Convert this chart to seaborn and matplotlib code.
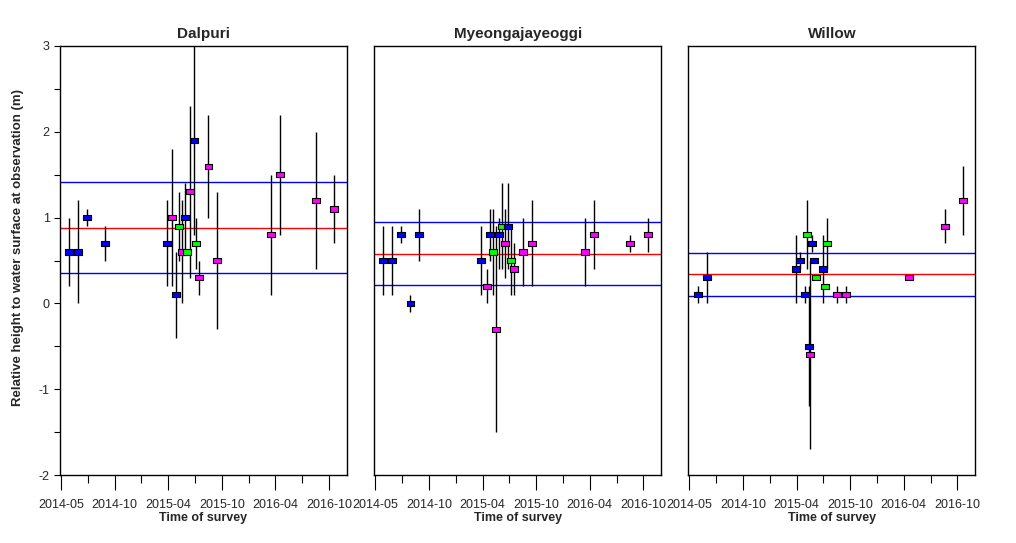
import pandas as pd
import numpy as np
import matplotlib
matplotlib.use("Agg")
import matplotlib.pyplot as plt
import matplotlib.dates as mdates
from matplotlib.ticker import MultipleLocator, FixedLocator
import seaborn as sns

# Site panels
SITES = ["Dalpuri", "Myeongajayeoggi", "Willow"]

# Dalpuri observations
dal_date = ["2014-05-29", "2014-06-27", "2014-07-28", "2014-09-26", "2015-04-23",
            "2015-05-10", "2015-05-23", "2015-05-31", "2015-06-10", "2015-06-20",
            "2015-06-29", "2015-07-09", "2015-07-23", "2015-07-29", "2015-08-08",
            "2015-09-08", "2015-10-08", "2016-04-06", "2016-05-05", "2016-09-04",
            "2016-11-03"]
dal_mean = [0.6, 0.6, 1.0, 0.7, 0.7, 1.0, 0.1, 0.9, 0.6, 1.0, 0.6, 1.3, 1.9, 0.7, 0.3,
            1.6, 0.5, 0.8, 1.5, 1.2, 1.1]
dal_low = [0.2, 0.0, 0.9, 0.5, 0.2, 0.2, -0.4, 0.5, 0.0, 0.6, 0.6, 0.3, 0.8, 0.4, 0.1,
           1.0, -0.3, 0.1, 0.8, 0.4, 0.7]
dal_high = [1.0, 1.2, 1.1, 0.9, 1.2, 1.8, 0.6, 1.3, 1.2, 1.4, 0.6, 2.3, 3.0, 1.0, 0.5,
            2.2, 1.3, 1.5, 2.2, 2.0, 1.5]
dal_group = ["A", "A", "A", "A", "A", "C", "A", "B", "C", "A", "B", "C", "A", "B", "C",
             "C", "C", "C", "C", "C", "C"]

# Myeongajayeoggi observations
mye_date = ["2014-05-28", "2014-06-27", "2014-07-27", "2014-08-27", "2014-09-26",
            "2015-04-22", "2015-05-11", "2015-05-22", "2015-06-01", "2015-06-11",
            "2015-06-21", "2015-06-30", "2015-07-11", "2015-07-21", "2015-08-01",
            "2015-08-11", "2015-09-10", "2015-10-09", "2016-04-05", "2016-05-05",
            "2016-09-03", "2016-11-03"]
mye_mean = [0.5, 0.5, 0.8, 0.0, 0.8, 0.5, 0.2, 0.8, 0.6, -0.3, 0.8, 0.9, 0.7, 0.9, 0.5,
            0.4, 0.6, 0.7, 0.6, 0.8, 0.7, 0.8]
mye_low = [0.1, 0.1, 0.7, -0.1, 0.5, 0.1, 0.0, 0.5, 0.1, -1.5, 0.4, 0.4, 0.3, 0.4, 0.1,
           0.1, 0.2, 0.2, 0.2, 0.4, 0.6, 0.6]
mye_high = [0.9, 0.9, 0.9, 0.1, 1.1, 0.9, 0.4, 1.1, 1.1, 0.9, 1.0, 1.4, 1.1, 1.4, 0.9,
            0.7, 1.0, 1.2, 1.0, 1.2, 0.8, 1.0]
mye_group = ["A", "A", "A", "A", "A", "A", "C", "A", "B", "C", "A", "B", "C", "A", "B",
             "C", "C", "C", "C", "C", "C", "C"]

# Willow observations
wil_date = ["2014-05-30", "2014-06-28", "2015-04-24", "2015-05-08", "2015-05-25",
            "2015-06-01", "2015-06-08", "2015-06-11", "2015-06-17", "2015-06-23",
            "2015-07-01", "2015-07-24", "2015-08-01", "2015-08-06", "2015-09-10",
            "2015-10-10", "2016-05-08", "2016-09-05", "2016-11-04"]
wil_mean = [0.1, 0.3, 0.4, 0.5, 0.1, 0.8, -0.5, -0.6, 0.7, 0.5, 0.3, 0.4, 0.2, 0.7, 0.1,
            0.1, 0.3, 0.9, 1.2]
wil_low = [0.0, 0.0, 0.0, 0.4, 0.0, 0.4, -1.2, -1.7, 0.6, 0.5, 0.3, 0.0, 0.2, 0.4, 0.0,
           0.0, 0.3, 0.7, 0.8]
wil_high = [0.2, 0.6, 0.8, 0.6, 0.2, 1.2, 0.2, 0.5, 0.8, 0.5, 0.3, 0.8, 0.2, 1.0, 0.2,
            0.2, 0.3, 1.1, 1.6]
wil_group = ["A", "A", "A", "A", "A", "B", "A", "C", "A", "A", "B", "A", "B", "B", "C",
             "C", "C", "C", "C"]

# Reference levels per site (upper, middle, lower)
upper_level = [1.42, 0.95, 0.59]
mid_level = [0.88, 0.58, 0.34]
lower_level = [0.36, 0.21, 0.09]

TICK_START = "2014-05-01"
TICK_STEP_DAYS = 180

palette = {"A": "#0000FF", "B": "#00FF00", "C": "#FF00FF"}


def make_frame(dates, mean, low, high, group):
    return pd.DataFrame({
        "date": pd.to_datetime(dates),
        "mean": mean,
        "low": low,
        "high": high,
        "group": group,
    })


frames = [
    make_frame(dal_date, dal_mean, dal_low, dal_high, dal_group),
    make_frame(mye_date, mye_mean, mye_low, mye_high, mye_group),
    make_frame(wil_date, wil_mean, wil_low, wil_high, wil_group),
]

sns.set_theme(style="white")
plt.rcParams['font.family'] = ['Liberation Sans', 'DejaVu Sans']
plt.rcParams['axes.unicode_minus'] = False

fig = plt.figure(figsize=(10.16, 5.43), dpi=100)
lefts = [60 / 1016, 374.3 / 1016, 688.3 / 1016]
bottom = 1 - 475 / 543
height = (475 - 46) / 543
width = 287 / 1016

rect = [(-1.5, -1.0), (1.5, -1.0), (1.5, 1.0), (-1.5, 1.0), (-1.5, -1.0)]

t0 = mdates.date2num(pd.Timestamp(TICK_START))
major = [t0 + k * TICK_STEP_DAYS for k in range(6)]
minor = [t0 + TICK_STEP_DAYS / 2 + k * TICK_STEP_DAYS for k in range(5)]

for i, (site, df) in enumerate(zip(SITES, frames)):
    ax = fig.add_axes([lefts[i], bottom, width, height])

    ax.axhline(upper_level[i], color="#0000FF", lw=1.0, zorder=1)
    ax.axhline(mid_level[i], color="#FF0000", lw=1.0, zorder=1)
    ax.axhline(lower_level[i], color="#0000FF", lw=1.0, zorder=1)

    ax.vlines(df["date"], df["low"], df["high"], color="black", lw=1.0, zorder=2)
    sns.scatterplot(data=df, x="date", y="mean", hue="group", palette=palette,
                    marker=rect, s=32, edgecolor="black", linewidth=0.8,
                    legend=False, zorder=3, ax=ax)

    ax.set_ylim(-2, 3)
    ax.set_xlim(t0 - 3.4, t0 + 960.3)

    ax.xaxis.set_major_locator(FixedLocator(major))
    ax.xaxis.set_minor_locator(FixedLocator(minor))
    ax.xaxis.set_major_formatter(mdates.DateFormatter("%Y-%m"))
    ax.tick_params(axis="x", which="major", direction="out", length=11, width=0.8,
                   color="black", labelsize=9, pad=6, bottom=True)
    ax.tick_params(axis="x", which="minor", direction="out", length=6, width=0.8,
                   color="black", bottom=True)

    if i == 0:
        ax.yaxis.set_major_locator(MultipleLocator(1))
        ax.yaxis.set_minor_locator(MultipleLocator(0.5))
        ax.tick_params(axis="y", which="both", direction="out", length=4, width=0.8,
                       color="black", labelsize=9, left=True)
        ax.set_ylabel("Relative height to water surface at observation (m)",
                      fontsize=9.5, fontweight="bold")
        ax.yaxis.set_label_coords(-0.125, 0.53)
    else:
        ax.set_yticks([])
        ax.set_ylabel("")

    for sp in ax.spines.values():
        sp.set_color("black")
        sp.set_linewidth(1.0)

    ax.set_xlabel("Time of survey", fontsize=9, fontweight="bold", labelpad=1)
    ax.set_title(site, fontsize=11, fontweight="bold", pad=6)

fig.savefig("out.png", dpi=100)
